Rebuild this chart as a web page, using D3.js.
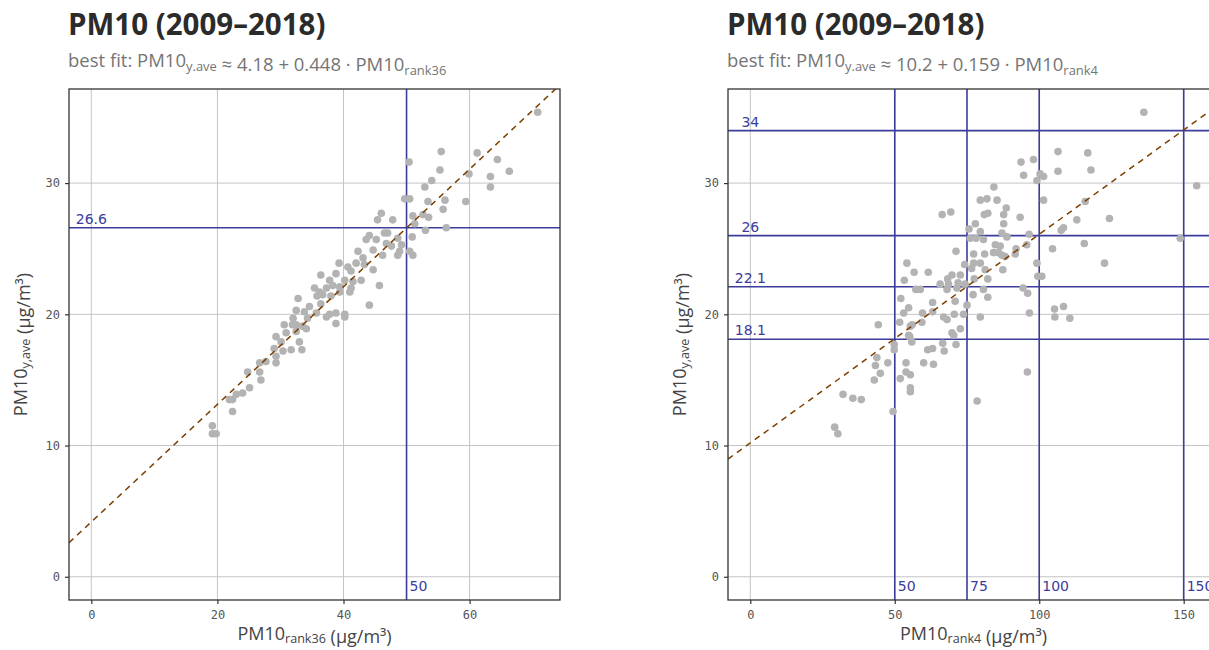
<!DOCTYPE html>
<html><head><meta charset="utf-8">
<script src="https://cdn.jsdelivr.net/npm/d3@7"></script>
<style>
html,body{margin:0;padding:0;background:#fff;}
svg{display:block;}
</style></head>
<body>
<svg id="chart" width="1209" height="650"></svg>
<script>
// ---------- data ----------
const titleText = "PM10 (2009–2018)";
const yTicks = [0, 10, 20, 30];
const xTicks36 = [0, 20, 40, 60];
const xTicks4 = [0, 50, 100, 150];
const fitIntercept = [4.18, 10.2];
const fitSlope = [0.448, 0.159];
const hLines36 = [26.6];
const vLines36 = [50];
const hLines4 = [34, 26, 22.1, 18.1];
const vLines4 = [50, 75, 100, 150];

// [PM10 rank36, PM10 y.ave]
const points36 = [
[70.8,35.4],[55.5,32.4],[50.4,31.6],[61.2,32.3],[64.4,31.8],[66.3,30.9],[63.3,30.5],[63.3,29.7],[59.9,30.7],[59.4,28.6],
[55.3,31.0],[54.0,30.2],[52.9,29.7],[53.4,28.6],[56.1,28.7],[55.8,28.0],[49.7,28.8],[50.5,28.8],[51.0,27.5],[52.6,27.6],
[53.5,27.4],[51.3,26.9],[56.3,26.6],[53.0,26.4],[50.9,25.9],[50.5,24.8],[51.0,24.5],[48.6,24.5],[49.2,25.3],[47.8,27.2],
[46.0,27.7],[47.0,26.2],[46.8,25.4],[48.6,25.8],[45.4,27.2],[44.1,26.0],[45.2,25.7],[46.5,26.2],[43.6,25.7],[42.3,24.8],
[44.7,24.9],[48.9,24.8],[47.6,25.2],[39.3,23.9],[40.7,23.6],[42.0,23.9],[43.3,23.8],[44.7,23.4],[38.8,23.1],[41.2,23.3],
[36.4,23.0],[37.8,22.6],[40.2,22.6],[41.5,22.5],[42.8,22.6],[35.4,22.0],[37.3,22.0],[38.3,22.2],[39.4,22.1],[41.2,22.0],
[45.7,22.2],[35.8,21.4],[36.7,21.5],[38.0,21.4],[32.8,21.2],[36.4,20.8],[34.6,20.6],[32.5,20.3],[33.8,20.2],[35.7,20.1],
[37.8,20.0],[40.2,20.0],[38.8,20.1],[44.1,20.7],[32.0,19.7],[34.3,19.7],[37.3,19.8],[38.8,19.3],[40.2,19.8],[32.5,19.2],
[33.5,19.1],[46.2,24.5],[43.1,24.3],[41.0,21.7],[39.4,21.7],[36.2,21.7],
[30.6,19.2],[31.9,19.2],[34.1,18.9],[32.5,18.7],[30.9,18.6],[29.3,18.3],[30.1,17.9],[33.0,17.9],[29.0,17.4],[30.4,17.2],
[31.7,17.3],[33.4,17.3],[29.3,16.8],[29.3,16.3],[26.7,16.3],[27.7,16.4],[24.8,15.6],[26.7,15.6],[26.9,15.0],[25.1,14.4],
[24.0,14.0],[23.0,13.9],[21.9,13.5],[22.4,13.5],[22.4,12.6],[19.2,11.5],[19.2,10.9],[19.8,10.9]
];

// [PM10 rank4, PM10 y.ave]
const points4 = [
[136.2,35.4],[154.5,29.8],[148.8,25.8],[122.6,23.9],[115.6,25.4],[124.3,27.3],[113.0,27.2],[115.9,28.6],[108.4,26.6],[107.6,26.4],
[104.6,25.0],[99.2,23.9],[99.5,22.9],[100.9,22.9],[101.5,28.7],[93.4,27.4],[96.5,26.1],[95.7,25.3],[92.0,25.0],[94.4,22.0],
[96.0,21.6],[96.6,20.1],[105.3,20.4],[108.4,20.6],[105.4,19.8],[110.6,19.7],
[106.5,32.4],[116.8,32.3],[98.0,31.8],[93.7,31.6],[106.5,30.9],[117.9,31.0],[94.6,30.6],[99.2,30.2],[100.3,30.7],[101.5,30.5],
[84.3,29.7],[79.6,28.7],[81.9,28.8],[85.4,28.7],[88.6,28.1],[81.0,27.6],[82.2,27.7],[87.7,27.6],[66.4,27.6],[69.4,27.8],
[87.7,26.9],[77.9,26.9],[75.7,26.5],[79.6,26.3],[76.1,25.8],[78.1,25.8],[80.7,25.7],[87.1,26.2],[88.8,25.9],[84.8,25.3],
[85.9,24.7],[87.1,24.5],[87.4,23.4],[91.7,24.6],[71.2,24.8],[77.3,24.6],[77.3,23.9],[79.6,23.9],[81.1,24.6],[74.2,23.8],
[76.6,23.5],[81.3,23.4],[82.2,22.7],[77.5,22.7],[72.7,23.0],[69.8,23.0],[68.3,22.7],[71.9,22.4],[68.6,22.3],[65.7,22.3],
[68.1,21.9],[71.5,22.0],[74.3,22.3],[80.7,21.9],[77.1,21.5],[82.2,21.3],[75.0,20.7],[70.9,21.0],[63.1,20.9],[61.6,23.2],
[56.7,23.2],[54.2,23.9],[53.3,22.6],[58.8,21.9],[57.3,21.9],[52.1,21.2],[54.8,20.5],[53.1,20.1],[59.6,20.1],[63.1,20.2],
[66.9,19.8],[70.6,20.0],[73.8,20.0],[79.6,19.8],[51.7,19.4],[44.3,19.2],[68.1,19.6],[72.7,18.9],[70.4,18.4],
[84.2,24.7],[88.2,24.4],[86.5,25.2],[56.0,19.2],[59.4,19.4],[54.8,18.4],[69.8,18.6],
[55.4,19.1],[55.9,17.9],[49.8,17.7],[49.8,17.3],[43.8,16.7],[47.6,16.3],[53.9,16.3],[43.3,16.1],[45.0,15.5],[53.9,15.6],
[55.4,15.4],[42.9,15.0],[51.9,15.1],[55.4,14.4],[55.4,14.1],[32.1,13.9],[35.5,13.6],[38.4,13.5],[49.4,12.6],[29.2,11.4],
[30.3,10.9],[95.9,15.6],[78.5,13.4],[60.0,16.3],[63.4,16.2],[61.4,17.3],[63.1,17.4],[66.6,17.8],[67.1,17.2],[71.2,17.7],
[55.2,18.3]
];

// ---------- styling ----------
const C = {
  grid: "#c4c4c4", border: "#333333", point: "#b3b3b3",
  ref: "#3c3c9c", fit: "#7f3f00", title: "#2b2b2b", sub: "#757575", tick: "#555555", axisTitle: "#444444"
};
const svg = d3.select("#chart");

function subText(sel, parts, size, shift) {
  parts.forEach(([t, isSub]) => {
    if (isSub) {
      sel.append("tspan").attr("dy", size * shift).attr("font-size", size * 0.7).text(t);
      sel.append("tspan").attr("dy", -size * shift).text("");
    } else {
      sel.append("tspan").text(t);
    }
  });
}

function panel(cfg) {
  const {left, top, width, height, xDomain, yDomain, xTicks, points, hLines, vLines, a, b, xSub, fitSubtitle} = cfg;
  const x = d3.scaleLinear().domain(xDomain).range([left, left + width]);
  const y = d3.scaleLinear().domain(yDomain).range([top + height, top]);
  const g = svg.append("g");
  const clipId = "clip" + left;
  svg.append("clipPath").attr("id", clipId).append("rect")
    .attr("x", left).attr("y", top).attr("width", width).attr("height", height);
  const inner = g.append("g").attr("clip-path", `url(#${clipId})`);

  // grid
  inner.selectAll(".gx").data(xTicks).join("line")
    .attr("x1", d => x(d)).attr("x2", d => x(d)).attr("y1", top).attr("y2", top + height)
    .attr("stroke", C.grid).attr("stroke-width", 1);
  inner.selectAll(".gy").data(yTicks).join("line")
    .attr("y1", d => y(d)).attr("y2", d => y(d)).attr("x1", left).attr("x2", left + width)
    .attr("stroke", C.grid).attr("stroke-width", 1);

  // reference lines
  inner.selectAll(".hl").data(hLines).join("line")
    .attr("x1", left).attr("x2", left + width).attr("y1", d => y(d)).attr("y2", d => y(d))
    .attr("stroke", C.ref).attr("stroke-width", 1.6);
  inner.selectAll(".vl").data(vLines).join("line")
    .attr("y1", top).attr("y2", top + height).attr("x1", d => x(d)).attr("x2", d => x(d))
    .attr("stroke", C.ref).attr("stroke-width", 1.6);

  // points
  inner.selectAll(".pt").data(points).join("circle")
    .attr("cx", d => x(d[0])).attr("cy", d => y(d[1])).attr("r", 3.8)
    .attr("fill", C.point);

  // fit line
  inner.append("line")
    .attr("x1", x(xDomain[0])).attr("y1", y(a + b * xDomain[0]))
    .attr("x2", x(xDomain[1])).attr("y2", y(a + b * xDomain[1]))
    .attr("stroke", C.fit).attr("stroke-width", 1.5).attr("stroke-dasharray", "6,5");

  // reference labels
  inner.selectAll(".hlt").data(hLines).join("text")
    .attr("x", x(0)).attr("y", d => y(d) - 4)
    .attr("text-anchor", "middle").attr("font-family", "DejaVu Sans, sans-serif")
    .attr("font-size", 14).attr("fill", C.ref).text(d => d);
  inner.selectAll(".vlt").data(vLines).join("text")
    .attr("x", d => x(d) + 3).attr("y", y(0) + 14)
    .attr("font-family", "DejaVu Sans, sans-serif")
    .attr("font-size", 14).attr("fill", C.ref).text(d => d);

  // border
  g.append("rect").attr("x", left).attr("y", top).attr("width", width).attr("height", height)
    .attr("fill", "none").attr("stroke", C.border).attr("stroke-width", 1.3);

  // axes
  const xAxis = d3.axisBottom(x).tickValues(xTicks).tickSize(4).tickPadding(6).tickFormat(d3.format("d"));
  const yAxis = d3.axisLeft(y).tickValues(yTicks).tickSize(4).tickPadding(5).tickFormat(d3.format("d"));
  const ax = g.append("g").attr("transform", `translate(0,${top + height})`).call(xAxis);
  const ay = g.append("g").attr("transform", `translate(${left},0)`).call(yAxis);
  [ax, ay].forEach(a2 => {
    a2.select(".domain").remove();
    a2.selectAll(".tick line").attr("stroke", C.border).attr("stroke-width", 1.2);
    a2.selectAll(".tick text").attr("font-family", "DejaVu Sans Mono, monospace")
      .attr("font-size", 12).attr("fill", C.tick);
  });

  // axis titles
  const xt = g.append("text").attr("x", left + width / 2).attr("y", top + height + 40)
    .attr("text-anchor", "middle").attr("font-family", "Open Sans, sans-serif")
    .attr("font-size", 18).attr("fill", C.axisTitle);
  subText(xt, [["PM10", false], [xSub, true], [" (µg/m³)", false]], 18, 0.18);
  const ytg = g.append("text")
    .attr("transform", `translate(${left - 42},${top + height / 2}) rotate(-90)`)
    .attr("text-anchor", "middle").attr("font-family", "Open Sans, sans-serif")
    .attr("font-size", 18).attr("fill", C.axisTitle);
  subText(ytg, [["PM10", false], ["y,ave", true], [" (µg/m³)", false]], 18, 0.18);

  // titles
  g.append("text").attr("x", left - 1).attr("y", 35)
    .attr("font-family", "Open Sans, sans-serif").attr("font-weight", 700)
    .attr("font-size", 29.5).attr("fill", C.title).text(titleText);
  const st = g.append("text").attr("x", left - 1).attr("y", 67)
    .attr("font-family", "Open Sans, sans-serif").attr("font-size", 18.5).attr("fill", C.sub);
  subText(st, fitSubtitle, 18.5, 0.22);
}

panel({
  left: 69, top: 89, width: 491, height: 511,
  xDomain: [-3.54, 74.34], yDomain: [-1.77, 37.17], xTicks: xTicks36,
  points: points36, hLines: hLines36, vLines: vLines36,
  a: fitIntercept[0], b: fitSlope[0], xSub: "rank36",
  fitSubtitle: [["best fit: PM10", false], ["y.ave", true], [" ≈ " + fitIntercept[0] + " + " + fitSlope[0] + " · PM10", false], ["rank36", true]]
});
panel({
  left: 728, top: 89, width: 491, height: 511,
  xDomain: [-7.72, 162.22], yDomain: [-1.77, 37.17], xTicks: xTicks4,
  points: points4, hLines: hLines4, vLines: vLines4,
  a: fitIntercept[1], b: fitSlope[1], xSub: "rank4",
  fitSubtitle: [["best fit: PM10", false], ["y.ave", true], [" ≈ " + fitIntercept[1] + " + " + fitSlope[1] + " · PM10", false], ["rank4", true]]
});
</script>
</body></html>
